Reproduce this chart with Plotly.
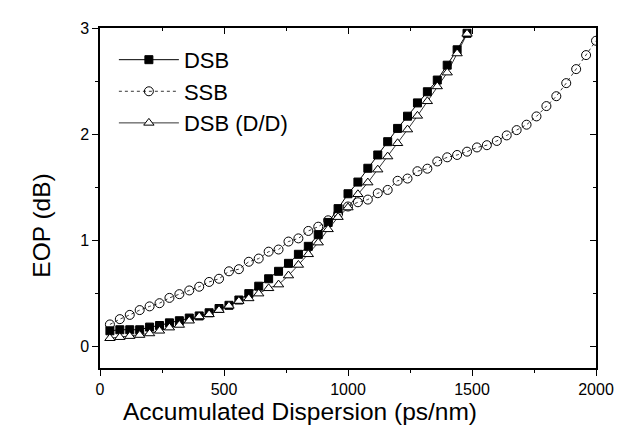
import plotly.graph_objects as go

x_dsb = [40 * i for i in range(1, 38)]
x_ssb = [40 * i for i in range(1, 51)]

dsb = [0.15, 0.16, 0.16, 0.16, 0.185, 0.20, 0.225, 0.245, 0.27, 0.29,
       0.32, 0.36, 0.39, 0.44, 0.50, 0.57, 0.64, 0.71, 0.785, 0.87,
       0.945, 1.055, 1.17, 1.30, 1.44, 1.55, 1.68, 1.805, 1.93, 2.055,
       2.17, 2.295, 2.40, 2.51, 2.65, 2.795, 2.95]

dsb_dd = [0.08, 0.09, 0.10, 0.11, 0.125, 0.15, 0.18, 0.205, 0.245, 0.285,
          0.305, 0.345, 0.385, 0.43, 0.455, 0.50, 0.55, 0.585, 0.67, 0.77,
          0.87, 0.98, 1.105, 1.22, 1.31, 1.435, 1.545, 1.667, 1.79, 1.915,
          2.044, 2.173, 2.31, 2.45, 2.58, 2.76, 2.945]

ssb = [0.21, 0.26, 0.30, 0.345, 0.38, 0.41, 0.46, 0.495, 0.53, 0.565,
       0.61, 0.64, 0.71, 0.73, 0.80, 0.83, 0.895, 0.915, 0.99, 1.02,
       1.09, 1.13, 1.19, 1.25, 1.32, 1.36, 1.385, 1.445, 1.476, 1.562,
       1.583, 1.652, 1.676, 1.744, 1.783, 1.805, 1.836, 1.876, 1.897, 1.937,
       1.989, 2.039, 2.09, 2.168, 2.265, 2.358, 2.481, 2.613, 2.745, 2.88]

x_range = [0, 2000]
y_range = [-0.2, 3]

x_title = "Accumulated Dispersion (ps/nm)"
y_title = "EOP (dB)"

FONT = "Liberation Sans, Arial, sans-serif"

fig = go.Figure()
fig.add_trace(go.Scatter(
    x=x_dsb, y=dsb, name="DSB", mode="lines+markers",
    line=dict(color="black", width=1),
    marker=dict(symbol="square", size=8, color="black",
                line=dict(color="black", width=1))))
fig.add_trace(go.Scatter(
    x=x_ssb, y=ssb, name="SSB", mode="lines+markers",
    line=dict(color="black", width=0.8, dash="dot"),
    marker=dict(symbol="circle-open", size=9, color="black",
                line=dict(color="black", width=1))))
fig.add_trace(go.Scatter(
    x=x_dsb, y=dsb_dd, name="DSB (D/D)", mode="lines+markers",
    line=dict(color="black", width=0.8),
    marker=dict(symbol="triangle-up", size=9, color="white",
                line=dict(color="black", width=1))))
# invisible trace to activate the mirrored axes with inside ticks
fig.add_trace(go.Scatter(x=[x_range[0]], y=[y_range[0]], xaxis="x2", yaxis="y2",
                         mode="markers", marker=dict(size=1, opacity=0),
                         showlegend=False, hoverinfo="skip"))

axis_common = dict(showgrid=False, zeroline=False, tickcolor="black")

fig.update_layout(
    width=624, height=435,
    margin=dict(l=92, r=36, t=13, b=75),
    paper_bgcolor="white", plot_bgcolor="white",
    font=dict(family=FONT, color="black"),
    showlegend=True,
    legend=dict(x=0.028, y=0.968, xanchor="left", yanchor="top",
                bgcolor="rgba(0,0,0,0)", font=dict(size=22, family=FONT, color="black"),
                itemwidth=60, tracegroupgap=0),
    xaxis=dict(range=x_range, dtick=500, tick0=0, ticks="outside", ticklen=6,
               tickwidth=1.2, showline=True, linecolor="black", linewidth=1.5, mirror=True,
               tickfont=dict(size=16, family=FONT, color="black"),
               minor=dict(dtick=250, ticks="outside", ticklen=3, tickcolor="black", showgrid=False),
               **axis_common),
    yaxis=dict(range=y_range, dtick=1, tick0=0, ticks="outside", ticklen=6,
               tickwidth=1.2, showline=True, linecolor="black", linewidth=1.5, mirror=True,
               tickfont=dict(size=16, family=FONT, color="black"),
               minor=dict(dtick=0.5, ticks="outside", ticklen=3, tickcolor="black", showgrid=False),
               **axis_common),
    xaxis2=dict(range=x_range, overlaying="x", side="top", dtick=500, tick0=0,
                ticks="inside", ticklen=6, tickwidth=1.2, showticklabels=False, showline=False,
                minor=dict(dtick=250, ticks="inside", ticklen=3, tickcolor="black", showgrid=False),
                **axis_common),
    yaxis2=dict(range=y_range, overlaying="y", side="right", dtick=1, tick0=0,
                ticks="inside", ticklen=6, tickwidth=1.2, showticklabels=False, showline=False,
                minor=dict(dtick=0.5, ticks="inside", ticklen=3, tickcolor="black", showgrid=False),
                **axis_common),
    annotations=[
        dict(text=x_title, xref="paper", yref="paper", x=0.403, y=-0.128,
             xanchor="center", yanchor="middle", showarrow=False,
             font=dict(size=24.5, family=FONT, color="black")),
        dict(text=y_title, xref="paper", yref="paper", x=-0.118, y=0.42,
             xanchor="center", yanchor="middle", showarrow=False, textangle=-90,
             font=dict(size=24.5, family=FONT, color="black")),
    ],
)

fig.write_html("out.html")
